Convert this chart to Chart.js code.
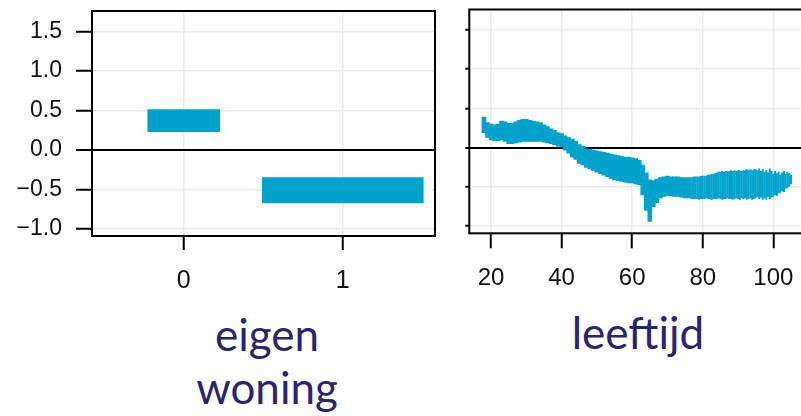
<!DOCTYPE html>
<html>
<head>
<meta charset="utf-8">
<script src="https://cdn.jsdelivr.net/npm/chart.js@4/dist/chart.umd.min.js"></script>
<style>
  html, body { margin: 0; padding: 0; background: #fff; width: 801px; height: 416px; overflow: hidden; position: relative; }
  canvas { position: absolute; top: 0; }
  #c1 { left: 0; }
  #c2 { left: 440px; }
  .ttl { position: absolute; font-family: Lato, "Open Sans", sans-serif; font-size: 44px; line-height: 53px; color: #2B2470; text-align: center; white-space: nowrap; }
</style>
</head>
<body>
<canvas id="c1" width="450" height="300"></canvas>
<canvas id="c2" width="380" height="300"></canvas>
<div class="ttl" style="left:167px; top:308px; width:200px;">eigen<br>woning</div>
<div class="ttl" style="left:538px; top:306px; width:200px;">leeftijd</div>
<script>
// ---------- DATA ----------
const yTicks = [-1.0, -0.5, 0.0, 0.5, 1.0, 1.5];
// panel 1: eigen woning
const woningCategories = ['0', '1'];
const woningLow  = [0.23, -0.67];
const woningHigh = [0.51, -0.35];
// panel 2: leeftijd
const ageTicks = [20, 40, 60, 80, 100];
const agesA = [18,19,20,21,22,23,24,25,26,27,28,29,30,31,32,33,34,35,36,37,38,39,40,41,42,43,44,45,46,47,
               48,49,50,51,52,53,54,55,56,57,58,59,60,61,62,63,64,65,66,67,68,69,70,71,72,73,74,75,76];
const highA = [0.39,0.32,0.30,0.29,0.30,0.34,0.33,0.31,0.31,0.33,0.35,0.36,0.36,0.35,0.34,0.33,0.32,0.29,0.27,0.24,
               0.22,0.19,0.18,0.15,0.13,0.11,0.08,0.04,0.02,0.00,-0.02,-0.03,-0.04,-0.05,-0.06,-0.07,-0.08,-0.09,-0.10,-0.11,
               -0.12,-0.12,-0.13,-0.14,-0.16,-0.22,-0.32,-0.41,-0.42,-0.40,-0.38,-0.37,-0.36,-0.37,-0.37,-0.37,-0.38,-0.38,-0.38];
const lowA  = [0.19,0.13,0.10,0.09,0.09,0.10,0.08,0.05,0.05,0.06,0.07,0.08,0.08,0.08,0.08,0.08,0.08,0.07,0.06,0.05,
               0.04,0.02,0.00,-0.03,-0.07,-0.12,-0.15,-0.20,-0.22,-0.25,-0.27,-0.29,-0.31,-0.33,-0.35,-0.37,-0.39,-0.41,-0.42,-0.43,
               -0.44,-0.45,-0.45,-0.46,-0.47,-0.60,-0.80,-0.94,-0.75,-0.70,-0.64,-0.62,-0.61,-0.61,-0.62,-0.62,-0.63,-0.64,-0.64];
const agesB = [76.5,77,77.5,78,78.5,79,79.5,80,80.5,81,81.5,82,82.5,83,83.5,84,84.5,85,85.5,86,86.5,87,87.5,88,88.5,89,89.5,
               90,90.5,91,91.5,92,92.5,93,93.5,94,94.5,95,95.5,96,96.5,97,97.5,98,98.5,99,99.5,100,100.5,101,101.5,102,102.5,103,103.5,104,104.5,105];
const highB = [-0.38,-0.38,-0.37,-0.37,-0.37,-0.37,-0.36,-0.36,-0.36,-0.36,-0.35,-0.35,-0.34,-0.34,-0.33,-0.32,-0.31,-0.31,-0.30,-0.31,-0.30,-0.30,-0.30,-0.29,-0.30,-0.29,-0.30,
               -0.29,-0.29,-0.30,-0.29,-0.29,-0.28,-0.29,-0.28,-0.29,-0.28,-0.28,-0.29,-0.27,-0.30,-0.28,-0.31,-0.29,-0.32,-0.27,-0.30,-0.34,-0.30,-0.33,-0.31,-0.35,-0.32,-0.30,-0.34,-0.31,-0.33,-0.35];
const lowB  = [-0.64,-0.65,-0.65,-0.65,-0.65,-0.66,-0.65,-0.65,-0.65,-0.64,-0.65,-0.65,-0.66,-0.65,-0.65,-0.65,-0.64,-0.65,-0.66,-0.65,-0.65,-0.64,-0.65,-0.65,-0.66,-0.65,-0.64,
               -0.65,-0.66,-0.64,-0.65,-0.64,-0.66,-0.65,-0.64,-0.66,-0.65,-0.64,-0.62,-0.65,-0.63,-0.66,-0.64,-0.66,-0.62,-0.65,-0.63,-0.62,-0.60,-0.61,-0.58,-0.57,-0.55,-0.56,-0.52,-0.51,-0.49,-0.46];

// ---------- STYLE ----------
const BLUE = '#00A3CC';
const GRID = '#ebebeb';
const TICKFONT = 'Liberation Sans';

const fmtY = v => (v < 0 ? '\u2212' + Math.abs(v).toFixed(1) : v.toFixed(1));

const framePlugin = {
  id: 'frame',
  afterDraw(chart) {
    const a = chart.chartArea, ctx = chart.ctx;
    ctx.save();
    ctx.strokeStyle = '#000';
    ctx.lineWidth = 2;
    ctx.strokeRect(a.left, a.top, a.right - a.left, a.bottom - a.top);
    ctx.restore();
  }
};

function gridColor(c) { return (c.tick && c.tick.value === 0) ? '#000' : GRID; }
function gridWidth(c) { return (c.tick && c.tick.value === 0) ? 2 : 1.5; }

function yScale(opts) {
  return {
    type: 'linear', min: -1.09, max: 1.76,
    afterBuildTicks: s => { s.ticks = yTicks.map(v => ({ value: v })); },
    afterFit: s => { s.width = opts.width; s.paddingTop = 0; s.paddingBottom = 0; },
    border: { display: false },
    grid: { offset: false, color: gridColor, lineWidth: gridWidth, tickColor: '#000', tickWidth: 2, tickLength: opts.tickLength },
    ticks: { display: opts.labels, callback: v => fmtY(v), padding: 14,
             font: { family: TICKFONT, size: 23 }, color: '#111' }
  };
}

// ---------- CHART 1 ----------
new Chart(document.getElementById('c1'), {
  type: 'bar',
  data: {
    datasets: woningCategories.map((cat, i) => ({
      data: [{ x: i, y: [woningLow[i], woningHigh[i]] }],
      backgroundColor: BLUE, borderWidth: 0, grouped: false,
      barThickness: i === 0 ? 72 : 161
    }))
  },
  options: {
    responsive: false, animation: false, devicePixelRatio: 1,
    layout: { padding: { top: 11, right: 15, left: 0, bottom: 0 } },
    plugins: { legend: { display: false }, tooltip: { enabled: false } },
    scales: {
      x: {
        type: 'linear', min: -0.577, max: 1.58, offset: false,
        afterBuildTicks: s => { s.ticks = woningCategories.map((c, i) => ({ value: i })); },
        afterFit: s => { s.height = 64; s.paddingLeft = 0; s.paddingRight = 0; },
        border: { display: false },
        grid: { offset: false, color: GRID, lineWidth: 1.5, tickColor: '#000', tickWidth: 2, tickLength: 14 },
        ticks: { callback: v => woningCategories[v], padding: 16, maxRotation: 0,
                 font: { family: TICKFONT, size: 25 }, color: '#111' }
      },
      y: yScale({ width: 92, tickLength: 16, labels: true })
    }
  },
  plugins: [framePlugin]
});

// ---------- CHART 2 ----------
new Chart(document.getElementById('c2'), {
  type: 'bar',
  data: {
    datasets: [
      { data: agesA.map((a, i) => ({ x: a, y: [lowA[i], highA[i]] })),
        backgroundColor: BLUE, borderWidth: 0, grouped: false, barThickness: 4 },
      { data: agesB.map((a, i) => ({ x: a, y: [lowB[i], highB[i]] })),
        backgroundColor: BLUE, borderWidth: 0, grouped: false, barThickness: 1.4 }
    ]
  },
  options: {
    responsive: false, animation: false, devicePixelRatio: 1,
    layout: { padding: { top: 9.5, right: 11.4, left: 0, bottom: 0 } },
    plugins: { legend: { display: false }, tooltip: { enabled: false } },
    scales: {
      x: {
        type: 'linear', min: 13.85, max: 110, offset: false,
        afterBuildTicks: s => { s.ticks = ageTicks.map(v => ({ value: v })); },
        afterFit: s => { s.height = 66.7; s.paddingLeft = 0; s.paddingRight = 0; },
        border: { display: false },
        grid: { offset: false, color: GRID, lineWidth: 1.5, tickColor: '#000', tickWidth: 2, tickLength: 15 },
        ticks: { callback: v => String(v), padding: 16, maxRotation: 0,
                 font: { family: TICKFONT, size: 24 }, color: '#111' }
      },
      y: yScale({ width: 29.3, tickLength: 4, labels: false })
    }
  },
  plugins: [framePlugin]
});
</script>
</body>
</html>
